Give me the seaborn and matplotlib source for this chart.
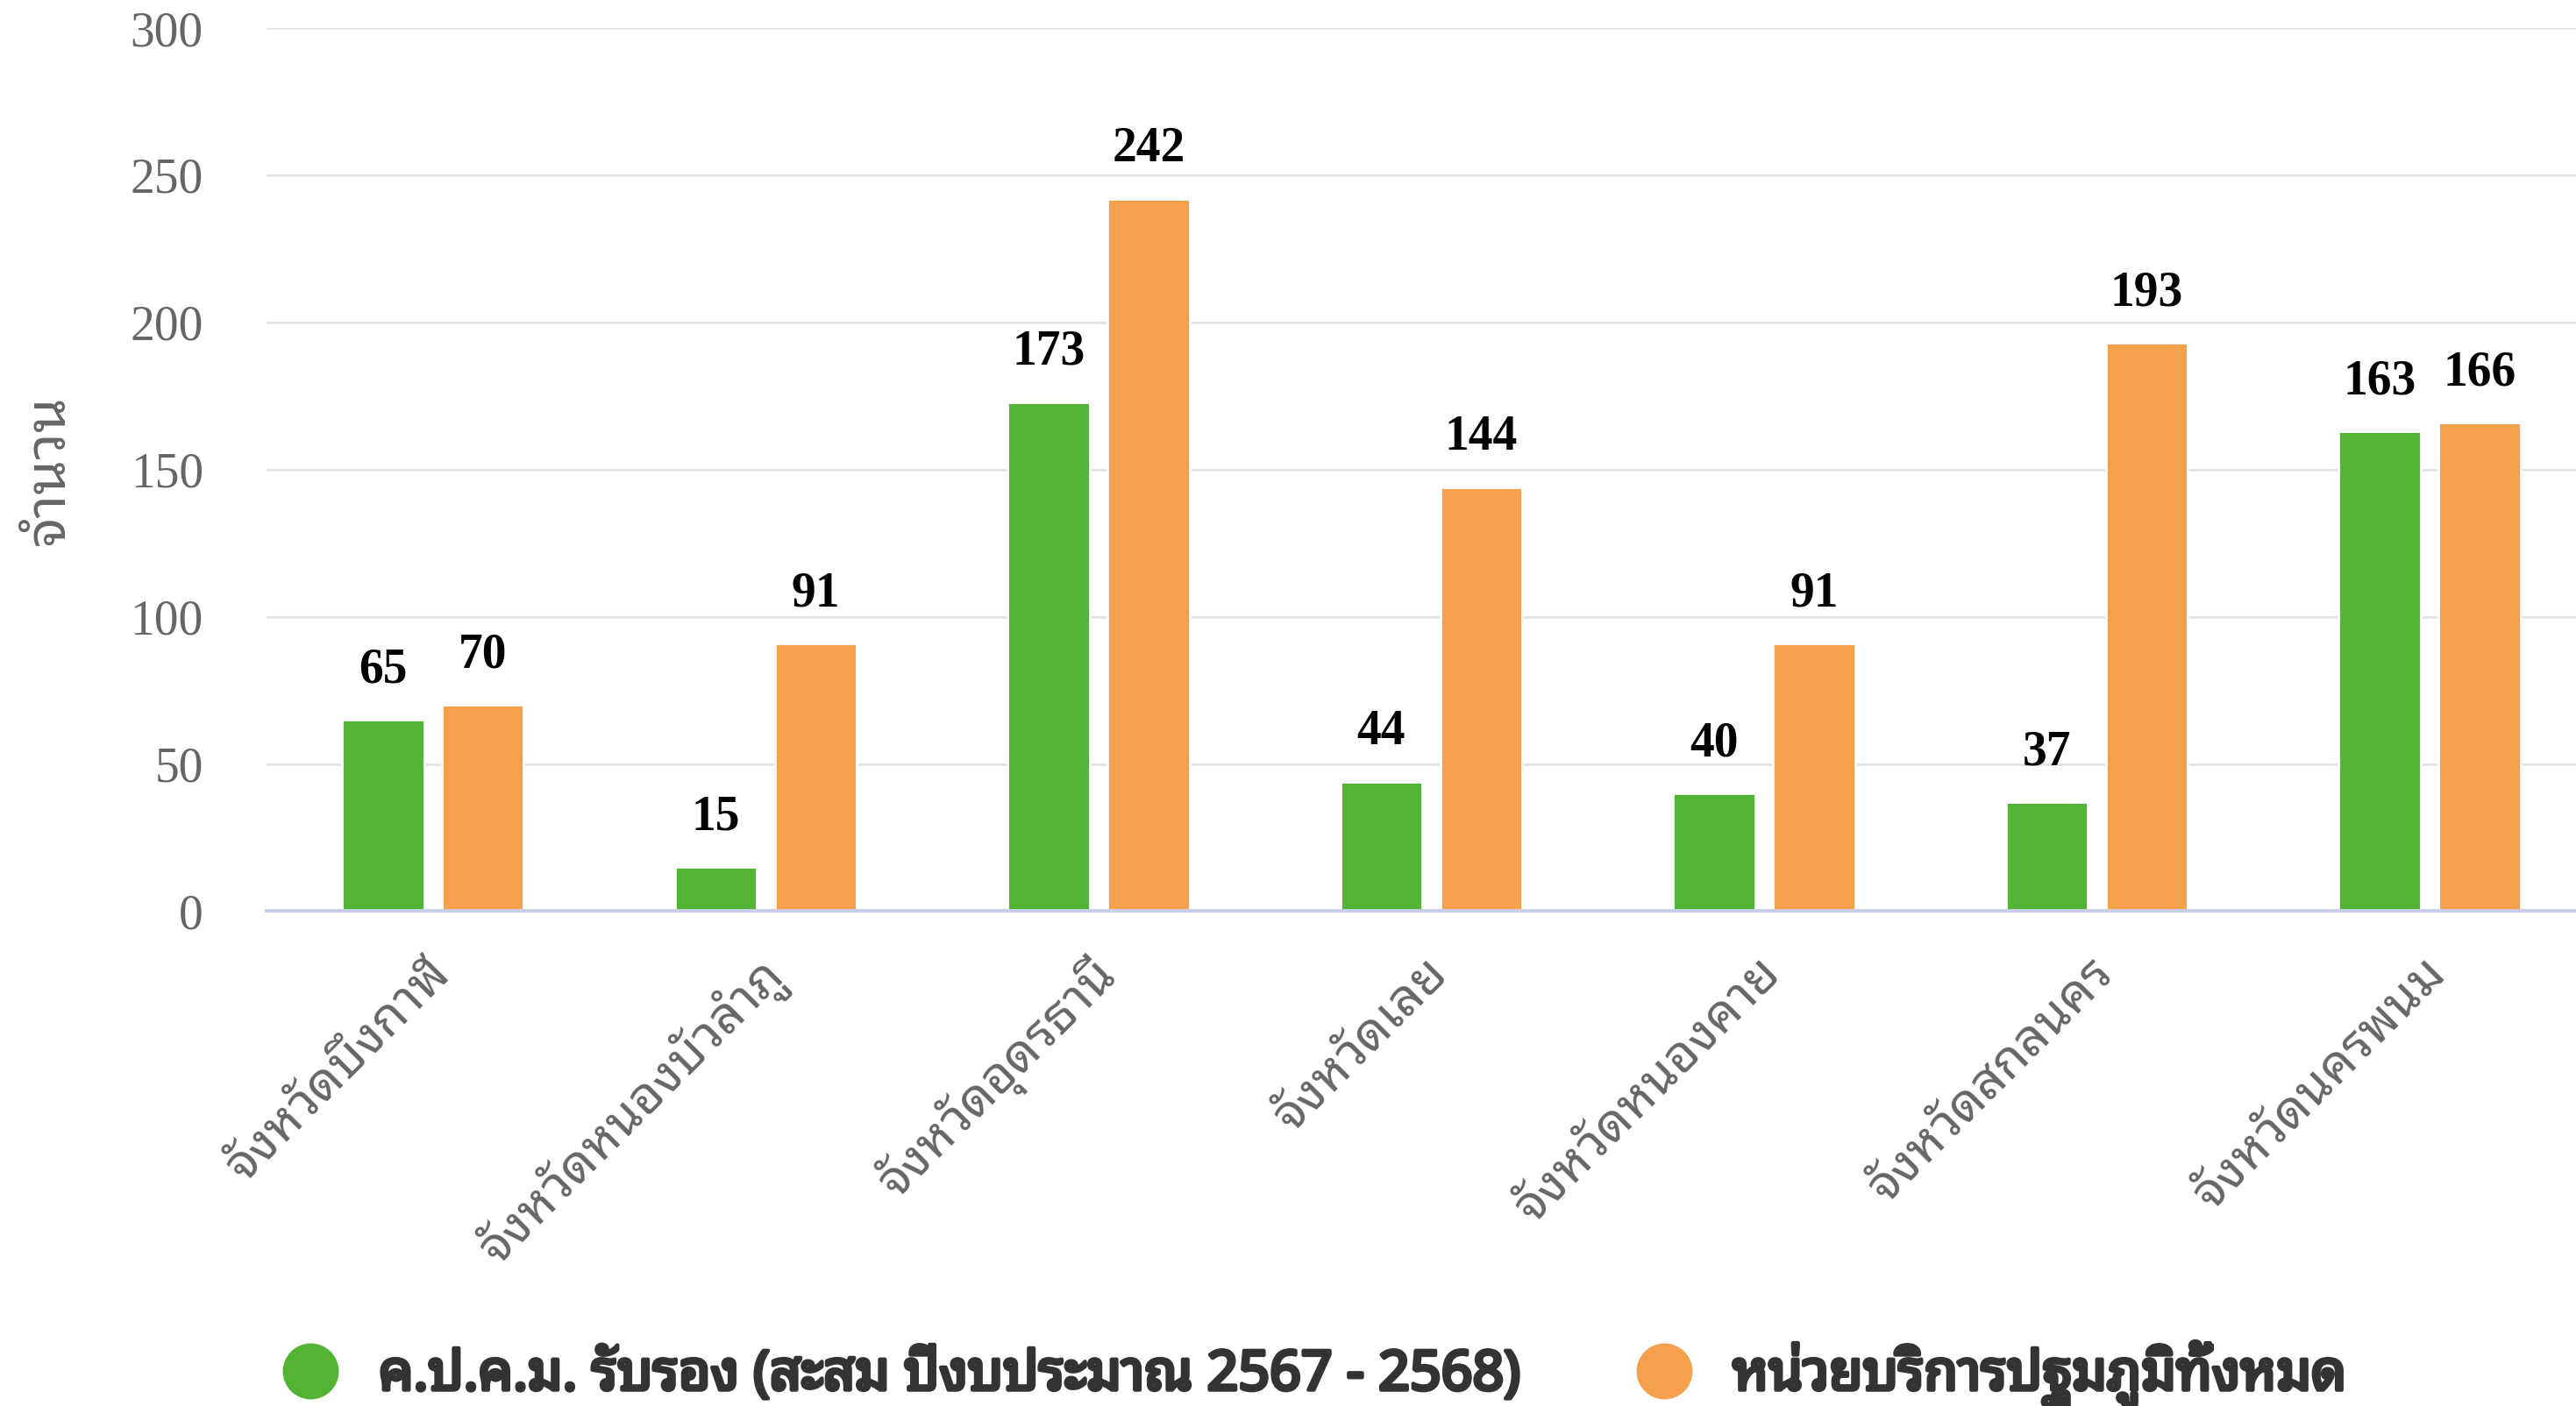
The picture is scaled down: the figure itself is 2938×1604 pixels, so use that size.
import matplotlib
matplotlib.use('Agg')
import matplotlib.pyplot as plt
from matplotlib import font_manager
from matplotlib.ft2font import FT2Font
from matplotlib.lines import Line2D
import matplotlib.patheffects as pe
import matplotlib.transforms as mtrans
import pandas as pd
import seaborn as sns

# Data
provinces = ['จังหวัดบึงกาฬ', 'จังหวัดหนองบัวลำภู', 'จังหวัดอุดรธานี', 'จังหวัดเลย',
             'จังหวัดหนองคาย', 'จังหวัดสกลนคร', 'จังหวัดนครพนม']
certified = [65, 15, 173, 44, 40, 37, 163]
total_units = [70, 91, 242, 144, 91, 193, 166]
series_names = ['ค.ป.ค.ม. รับรอง (สะสม ปีงบประมาณ 2567 - 2568)', 'หน่วยบริการปฐมภูมิทั้งหมด']
colors = ['#52B334', '#F4A04C']
y_ticks = [0, 50, 100, 150, 200, 250, 300]


def thai_fonts():
    found = {}
    for f in font_manager.fontManager.ttflist:
        try:
            cmap = FT2Font(f.fname).get_charmap()
        except Exception:
            continue
        if 0x0E08 in cmap and 0x0E31 in cmap:
            found.setdefault(f.name, []).append(f)
    return found


found = thai_fonts()
thai_font = 'DejaVu Sans'
for pref in ['Noto Sans Thai Looped', 'Tahoma', 'Loma', 'Garuda', 'Noto Sans Thai', 'Noto Sans Thai UI']:
    if pref in found:
        thai_font = pref
        break
else:
    if found:
        thai_font = sorted(found)[0]

# look for a bold face of the Thai font for the legend
bold_face = None
for f in found.get(thai_font, []):
    w = f.weight if isinstance(f.weight, int) else 400
    if w >= 700:
        bold_face = f.fname
        break

df = pd.DataFrame({
    'province': provinces * 2,
    'value': certified + total_units,
    'series': [series_names[0]] * len(provinces) + [series_names[1]] * len(provinces),
})

sns.set_style('white')
plt.rcParams['font.family'] = [thai_font, 'DejaVu Sans']

fig = plt.figure(figsize=(14.69, 8.02), dpi=200)
ax = fig.add_axes([0.1035, 0.352, 0.8965, 0.628])

sns.barplot(data=df, x='province', y='value', hue='series', palette=colors,
            width=0.6, gap=0.18, ax=ax, legend=False, saturation=1)

# value labels
for cont in ax.containers:
    for bar in cont:
        h = bar.get_height()
        ax.annotate(f'{int(h)}', (bar.get_x() + bar.get_width() / 2, h),
                    xytext=(0, 11), textcoords='offset points', ha='center', va='bottom',
                    fontsize=20, fontweight='bold', family='Liberation Serif', color='black')

ax.set_ylim(0, 300)
ax.set_xlim(-0.5, 6.44)
ax.set_yticks(y_ticks)
ax.set_yticklabels([str(t) for t in y_ticks], family='Liberation Serif', fontsize=20, color='#666666')
ax.yaxis.grid(True, color='#e3e3e3', linewidth=1.0)
ax.set_axisbelow(True)
ax.tick_params(axis='y', length=0, pad=26)
ax.tick_params(axis='x', length=0, pad=15)

shift = mtrans.ScaledTranslation(-4 / 72, 0, fig.dpi_scale_trans)
for lbl in ax.get_xticklabels():
    lbl.set_rotation(45)
    lbl.set_ha('right')
    lbl.set_rotation_mode('anchor')
    lbl.set_fontsize(21)
    lbl.set_color('#666666')
    lbl.set_transform(lbl.get_transform() + shift)

ax.set_xlabel('')
ax.set_ylabel('จำนวน', fontsize=23, color='#666666')
ax.yaxis.set_label_coords(-0.082, 0.5)

for s in ['top', 'right', 'left']:
    ax.spines[s].set_visible(False)
ax.spines['bottom'].set_color('#c8cfe8')
ax.spines['bottom'].set_linewidth(1.4)

# legend at the bottom
marks = [Line2D([], [], marker='o', linestyle='', markersize=22, markerfacecolor=c, markeredgecolor=c)
         for c in colors]
if bold_face:
    leg_prop = font_manager.FontProperties(fname=bold_face, size=22.5)
else:
    leg_prop = font_manager.FontProperties(family=[thai_font, 'DejaVu Sans'], size=22.5, weight='bold')
leg = fig.legend(marks, series_names, loc='center left', bbox_to_anchor=(0.08, 0.023),
                 ncol=2, frameon=False, handletextpad=0.25, columnspacing=1.6, prop=leg_prop)
for t in leg.get_texts():
    t.set_color('#333333')
    if not bold_face:
        t.set_path_effects([pe.withStroke(linewidth=1.6, foreground='#333333')])

plt.savefig('out.png', dpi=200)
plt.close()
